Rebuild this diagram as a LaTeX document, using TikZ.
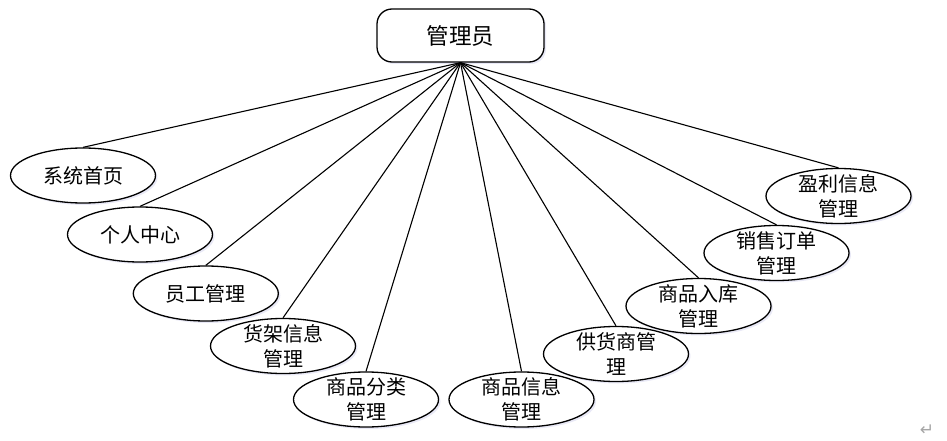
\documentclass[tikz,border=0pt]{standalone}
\usepackage{fontspec}
\newfontfamily\cjk{Noto Sans CJK SC}
\newfontfamily\symfont{DejaVu Sans}
\usetikzlibrary{shapes.geometric,shadows}
\begin{document}
\begin{tikzpicture}[x=1pt,y=-1pt,line join=round]
\useasboundingbox (0,0) rectangle (947,441);
\tikzset{
  topbox/.style={draw, line width=1.3pt, rounded corners=15pt, minimum width=167pt,
    minimum height=53pt, inner sep=0pt, fill=white,
    drop shadow={opacity=0.12, shadow xshift=2pt, shadow yshift=-2pt, fill=blue!40!gray},
    font=\cjk\fontsize{22.5}{26}\selectfont},
  oval/.style={draw, ellipse, line width=1.3pt, minimum width=145pt, minimum height=55pt,
    inner sep=0pt, fill=white,
    drop shadow={opacity=0.12, shadow xshift=2pt, shadow yshift=-2pt, fill=blue!40!gray}},
  lbl/.style={font=\cjk\fontsize{20}{25}\selectfont, align=center, inner sep=0pt},
  link/.style={line width=1.1pt}
}
\node[topbox] (top) at (460.5,35.5) {管理员};
\node[oval] (e1) at (83,175.5) {};
\node[oval] (e2) at (140,234.5) {};
\node[oval] (e3) at (205.8,293.5) {};
\node[oval] (e4) at (283,346) {};
\node[oval] (e5) at (366,399.5) {};
\node[oval] (e6) at (521.5,399.5) {};
\node[oval] (e7) at (616,354) {};
\node[oval] (e8) at (698.5,306) {};
\node[oval] (e9) at (776.5,253) {};
\node[oval] (e10) at (838.5,196) {};
\foreach \i in {1,...,10}{\draw[link] (top.south) -- (e\i.north);}
\node[lbl] (t1) at (e1) {系统首页};
\node[lbl] (t2) at (e2) {个人中心};
\node[lbl] (t3) at (e3) {员工管理};
\node[lbl] (t4) at (e4) {货架信息\\管理};
\node[lbl] (t5) at (e5) {商品分类\\管理};
\node[lbl] (t6) at (e6) {商品信息\\管理};
\node[lbl] (t7) at (e7) {供货商管\\理};
\node[lbl] (t8) at (e8) {商品入库\\管理};
\node[lbl] (t9) at (e9) {销售订单\\管理};
\node[lbl] (t10) at (e10) {盈利信息\\管理};
\node[font=\symfont\fontsize{17}{17}\selectfont, text=gray!70, inner sep=0pt] (ret) at (927,430) {↵};
\end{tikzpicture}
\end{document}
